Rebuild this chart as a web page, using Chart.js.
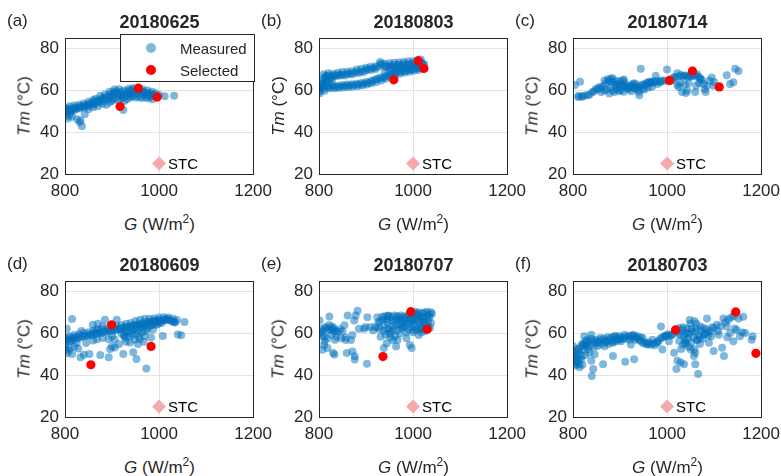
<!DOCTYPE html>
<html>
<head>
<meta charset="utf-8">
<script src="https://cdn.jsdelivr.net/npm/chart.js@4.4.1/dist/chart.umd.min.js"></script>
<style>
body { margin: 0; width: 781px; height: 476px; position: relative; overflow: hidden; background: #fff;
  font-family: "Liberation Sans", Arial, Helvetica, sans-serif; color: #262626; }
canvas { position: absolute; }
.txt { position: absolute; white-space: nowrap; line-height: 1; }
.panel { font-size: 17px; }
.title { font-size: 18px; font-weight: bold; text-align: center; transform: translateX(-50%); }
.xlab { font-size: 17px; transform: translateX(-50%); }
.ylab { font-size: 17px; transform: translate(-50%, -50%) rotate(-90deg); }
sup { font-size: 12px; vertical-align: 7px; line-height: 0; }
.legend { position: absolute; left: 120px; top: 34px; width: 133px; height: 46px; background: #fff;
  border: 1px solid #262626; font-size: 15px; }
.legend .dot { position: absolute; border-radius: 50%; }
</style>
</head>
<body>
<script>
const panelNames = ['(a)', '(b)', '(c)', '(d)', '(e)', '(f)'];
const titles = ['20180625', '20180803', '20180714', '20180609', '20180707', '20180703'];
const xTicks = [800, 1000, 1200];
const yTicks = [20, 40, 60, 80];
const stcPoint = [1000, 25];
const legendLabels = ['Measured', 'Selected'];

// measured [G, Tm] and selected points
const measuredA = [
  [800,50.2],[801,51.3],[803,49.6],[805,50.8],[807,51.5],[809,50.1],[811,51],[813,49.8],[815,50.6],[817,51.4],
  [820,50.5],[822,51.8],[825,51.2],[828,52],[831,51.3],[834,52.4],[837,51.8],[840,52.6],[843,52.1],[846,53],
  [849,52.4],[852,53.4],[855,53.9],[858,53.2],[861,54.3],[864,53.6],[867,54.8],[870,55.2],[873,54.4],[876,55.6],
  [879,56.2],[882,55.1],[885,56.6],[888,55.8],[891,57.2],[894,56.4],[897,58.2],[900,57.3],[903,59.1],[906,58.4],
  [909,59.6],[912,58.8],[915,57.6],[918,59.2],[921,58],[924,56.8],[927,57.9],[930,59.3],[933,58.1],[936,59.8],
  [939,58.6],[942,60.2],[945,59.1],[948,60.4],[951,59.4],[954,58.3],[957,59.6],[960,60.1],[963,59],[966,58.2],
  [969,59.3],[972,58.6],[975,57.8],[978,58.8],[981,57.6],[984,58.2],[987,57.3],[990,57.8],[994,57.2],[1000,57.8],
  [1012,57.2],[1032,57.4],[880,53.6],[888,53.2],[895,54.4],[902,55.6],[908,56.2],[914,55.4],[920,56.4],[926,55],
  [932,55.8],[938,56.6],[944,57.2],[950,56.6],[956,57],[962,56.4],[968,56.8],[974,56.2],[980,56.6],[986,55.8],
  [924,50.6],[870,52.4],[860,52],[850,51],[802,47.6],[806,46.6],[810,48.4],[815,47.4],[826,46.2],[831,44.8],
  [836,42.8],[833,45.6],[842,48.6],[900,55],[940,57.4],
  [905,60.4],[915,60.6],[925,60],[935,60.8],[945,61.2],[955,60.8],[965,60.6],[975,60],[985,59.4],[895,59.4],
  [885,58],[875,57.4],[865,56],[860,55.4],[850,54.6],[840,53.8],[830,53.2],[820,52.8],[810,52.4],[992,58.6]
];
const selectedA = [[917,52.3],[956,61.1],[996,56.8]];

const measuredB = [
  [806,64.2],[809,65.4],[812,66.4],[815,67],[818,66.6],[822,67.2],[826,66.4],[830,66.8],[834,67.3],[838,66.9],
  [842,67.5],[846,67.1],[850,67.6],[855,67.2],[860,67.8],[865,68.1],[870,67.6],[875,68.4],[880,68.8],[885,68.4],
  [890,69.2],[895,68.8],[900,69.6],[905,70.2],[910,69.8],[915,70.6],[920,70.3],[925,71.2],[930,72.4],[934,72.8],
  [938,71.6],[943,71.2],[948,71.8],[953,71.4],[958,72.2],[963,71.6],[968,72.3],[973,71.8],[978,72.5],[983,72.1],
  [988,72.7],[993,72.4],[998,72.9],[1003,72.6],[1008,73.2],[1013,73.8],[1018,73.4],[1021,72.6],
  [800,59.4],[800,61.2],[803,60.4],[806,61.6],[810,60.8],[814,62.2],[818,61.6],[822,62.6],[826,61.8],[830,62.4],
  [835,61.7],[840,62.3],[845,61.9],[850,62.6],[855,62.1],[860,62.8],[865,62.3],[870,62.9],[875,62.6],[880,63.2],
  [885,62.8],[890,63.6],[895,63.2],[900,64],[905,63.6],[910,64.4],[915,64.8],[920,65.2],[925,65.6],[930,66.2],
  [935,65.8],[940,66.6],[945,67],[950,67.4],[955,67.8],[960,68.4],[965,68.8],[970,69.2],[975,69],[980,69.6],
  [985,69.4],[990,70],[995,69.8],[1000,70.4],[1005,70.2],[1010,70.6],[1015,71],[1020,71.6],[1024,72.4],
  [808,63.2],[812,64],[816,64.6],[820,65.2],[824,65.6],[828,65.4],[804,62.6],
  [962,70.2],[970,70.8],[980,71],[990,71.2],[1000,71.4],[1010,71.8],[950,69.6],[940,69],[955,70.4],
  [810,67.8],[820,68.2],[830,67.9],[840,68.5],[850,68.8],[860,69],[870,69.2],[880,70],[890,70.4],[900,70.8],
  [910,71.3],[920,71.6],[930,73.6],[940,72.8],[950,73],[960,73.2],[970,73.4],[980,73.6],[990,74],[1000,74],
  [1010,74.6],[1016,74.8],
  [802,58.6],[812,59.8],[822,61],[832,61],[842,61.2],[852,61.4],[862,61.6],[872,61.8],[882,62],[892,62.4],
  [902,62.8],[912,63.4],[922,64],[932,64.8],[942,65.6],[952,66.4],[962,67.2],[972,68],[982,68.6],[992,69],
  [1002,69.4],[1012,69.8]
];
const selectedB = [[1011,74.1],[1023,70.5],[959,65.1]];

const measuredC = [
  [804,62.6],[815,64.2],[811,56.9],[821,57.2],[832,57.7],[842,59.2],[849,60.8],[856,61.6],[867,64.7],[874,65.4],
  [881,65.7],[867,60],[860,59.2],[877,58.5],[888,59.2],[895,63.1],[906,64.7],[909,62.3],[920,61.6],[927,63.1],
  [931,60.8],[937,61.6],[944,70.4],[941,57.7],[948,60.8],[955,63.1],[965,63.9],[976,67],[980,63.1],[987,64.2],
  [1000,70],[1004,64.7],[1015,66.2],[1022,68.2],[1025,61.6],[1032,59.2],[1036,67],[1043,60],[1050,66.7],[1060,59.2],
  [1064,67.7],[1071,65.4],[1078,63.1],[1082,59.2],[1085,62.3],[1095,66.2],[1099,62.3],[1127,67.3],[1134,63.1],[1145,70.4],
  [1152,69.3],[1141,63.9],
  [812,57.4],[818,57],[826,57.6],[836,58.2],[844,59.6],[852,60.4],[858,61],[864,62],[870,63.4],[876,64.6],
  [882,64.2],[886,63.8],[890,62.6],[896,62.4],[900,61.4],[904,62.8],[910,63.6],[914,62],[918,60.6],[922,62.4],
  [926,62],[930,63.4],[934,62.8],[938,60.4],[942,61.8],[946,62.6],[950,63],[954,62.4],[958,63.8],[962,64.2],
  [966,63.6],[970,64.4],[974,63.8],[978,64.6],[984,64.2],[990,64.8],[996,64.6],[1008,65.6],[1012,64.8],[1018,66.4],
  [1026,66.8],[1030,67.4],[1034,66.6],[1040,67.2],[1044,66.4],[1048,67],[1052,67.6],[1056,66.8],[1060,67.4],[1066,66.6],
  [1070,66],[1074,65],[1028,63.6],[1038,62.8],[1046,63.4],[1022,62.6],[1062,62.2],[1068,63.6],[1090,64.6],[1080,60.6],
  [1040,58.8],[1100,64],
  [872,60.4],[880,61.4],[884,60],[892,60.6],[898,59.6],[902,60.2],[908,59.4],[916,61],[924,59.6],[932,61.2],
  [940,59.4],[952,60.4],[960,61.4],[968,61.8],[884,65.8],[892,64.6],[900,64.4],[908,65.2]
];
const selectedC = [[1005,64.7],[1054,69.3],[1111,61.7]];

const measuredD = [
  [800,54],[802,52.5],[803,56],[806,57],[810,56.2],[814,57.4],[818,57],[822,58],[826,57.6],[830,58.4],
  [834,58],[838,58.6],[842,59],[846,58.6],[850,59.4],[854,59],[858,59.8],[862,59.4],[866,60.2],[870,60],
  [874,60.6],[878,60.2],[882,61],[886,60.6],[890,61.2],[894,61],[898,61.6],[902,61.2],[906,62],[910,61.6],
  [914,62.4],[918,62],[922,62.8],[926,62.4],[930,63.2],[934,62.8],[938,63.6],[942,63.2],[946,64],[950,63.6],
  [954,64.4],[958,64],[962,64.8],[966,64.4],[970,65.2],[974,64.8],[978,65.6],[982,65.2],[986,66],[990,65.6],
  [994,66.2],[998,65.8],[1002,66.4],[1006,66],[1010,66.6],[1014,66.2],[1018,66.8],[1022,66.4],[1026,66],[1030,65.6],
  [1034,65.2],[1038,66.4],
  [920,60],[925,59],[930,60.6],[935,61.4],[940,60.2],[945,61.8],[950,62.4],[955,61],[960,62.6],[965,63],
  [970,63.4],[975,62.2],[980,63.6],[985,64],[990,64.4],[995,64.2],[1000,64.8],[1005,65],[928,57.8],[936,58.6],
  [944,59.2],[952,59.8],[958,58.4],[964,60.6],[972,61.2],
  [815,66.9],[804,62.2],[801,57.2],[808,51.7],[815,50.2],[833,48.6],[852,50.2],[875,49.7],[893,48.6],[812,56.4],
  [818,58],[859,64.2],[866,61.9],[885,66.6],[868,57.2],[893,57.2],[905,57.2],[910,66.6],[896,52.5],[906,53.3],
  [924,50.2],[917,62.2],[927,58.8],[938,55.6],[945,51],[952,47.8],[959,57.2],[969,58.8],[983,58],[973,43.2],
  [987,61.9],[1008,58.8],[1040,59.5],[1047,59.1],[1054,65.5],[1033,65.5],[1015,66.9],[994,65.8],[804,50.5],[810,53],
  [820,53.6],[828,52.8],[845,55.4],[860,56.6],[880,57.8],[900,58.6],[915,55],[948,57],[955,55],[968,56],
  [880,62],[870,64.6],[835,61.2],[825,55.4],[840,49.8],[900,53.8],[930,56],
  [940,65],[950,66],[960,66.6],[970,67],[980,67],[990,67.2],[1000,67.6],[1010,67.8],[1020,67.6],[1030,67],
  [930,64.6],[920,64],[910,63.4],[900,62.8],[890,62.4],[880,63.4],[870,61.8],[860,61.2],[850,60.6],[840,60.2],
  [830,59.6],[820,59.2],[810,58.6],[805,58]
];
const selectedD = [[899,64.1],[983,53.8],[855,45]];

const measuredE = [
  [801,66.2],[804,60.8],[811,58.4],[814,63.1],[822,68.1],[826,61.6],[830,63.1],[833,60.8],[837,58.4],[811,54.5],
  [807,52.2],[818,53],[830,50.6],[833,49.9],[847,57.7],[854,63.9],[857,56.9],[861,68.6],[868,56.9],[871,59.2],
  [871,51.4],[875,66.2],[878,68.6],[882,70.9],[859,50.6],[876,49.1],[876,47.5],[902,45.5],[885,62.3],[899,63.1],
  [903,67.8],[896,62.3],[910,63.1],[924,67.8],[927,63.1],[931,58.4],[938,53],[944,55.3],[947,68.6],[950,60],
  [957,56.9],[964,53.8],[967,56.9],[970,67.8],[979,63.1],[986,57.7],[993,54.5],[997,53],[1002,61.6],[1009,69.4],
  [1012,59.2],[1020,67.8],[1023,64.7],[1030,68.6],[1038,70.1],[1016,62.3],
  [930,66],[935,68],[940,64],[945,67],[950,62],[955,66],[960,68.6],[965,64],[970,66.4],[975,62.6],
  [980,68],[985,65],[990,61.8],[995,67.4],[1000,64.2],[1005,69],[1010,66],[1015,63.4],[1020,69.6],[1025,66.6],
  [1030,70.4],[1035,67.8],[1040,69.4],[1038,65],[1028,63],[1018,60.6],[1008,62.4],[998,66.2],[988,68.6],[978,64.6],
  [968,61.6],[958,62],[948,68.4],[938,61.2],[928,62],[920,63],[915,61.5],[942,59.4],[952,58.2],[962,58.8],
  [972,60],[982,63.2],[992,64.6],[1002,68],[1012,70],[1022,67.6],[1032,66],[1036,62.6],[1026,61.2],[1016,65.4],
  [1006,67],[996,62.8],[986,60.4],[976,66.8],[966,68.2],[956,63.6],[946,65.4],[936,66.6],[926,65.2],[1000,60.6],
  [1010,61.6],[1020,62.2],
  [805,62.2],[810,61.4],[815,62.6],[820,61.8],[825,63],[830,62.2],[835,61.4],[840,60.8],[845,62],[818,57.6],
  [826,59.4],[834,57],[812,56.2],[808,58.8],[802,60],[850,61],[856,58],[822,64],
  [940,68.2],[952,68],[964,67],[974,68.6],[984,67.4],[994,69.2],[1004,70.4],[1014,68.2],[1024,70],[1034,69],
  [962,65.6],[972,64],[982,66.2],[992,66.4],[1002,65.6],[1012,67.6],[1022,65.2],[1032,63.6],[954,60.8],[944,62.2]
];
const selectedE = [[995,70.4],[1030,62],[936,48.9]];

const measuredF = [
  [800,53.9],[804,49.2],[807,45.3],[814,43.8],[811,52.3],[821,54.7],[828,53.9],[835,50.8],[839,46.9],[843,43],
  [840,39.6],[824,58.6],[839,59.4],[846,50],[853,55.5],[864,45.3],[867,53.9],[874,56.3],[885,55.5],[888,58.6],
  [885,49.2],[895,57],[902,56.3],[911,46.4],[910,59.4],[923,54.7],[927,59.4],[930,47.7],[937,58.6],[948,57.8],
  [958,54.7],[969,57],[980,55.5],[987,63.3],[990,52.3],[997,58.6],[1004,56.3],[1011,59.4],[1015,50.8],[1022,46.9],
  [1020,43],[1029,46.1],[1036,45.3],[1039,55.5],[1043,60.2],[1048,66.4],[1050,52.3],[1057,49.2],[1060,45.3],[1066,40.6],
  [1064,57],[1071,63.3],[1078,59.4],[1085,67.2],[1089,55.5],[1099,51.6],[1106,64.1],[1110,59.4],[1117,53.1],[1120,67.2],
  [1121,49.2],[1127,63.3],[1134,60.2],[1141,56.3],[1148,61.7],[1155,58.6],[1162,68],[1166,60.2],[1182,58.6],[1180,57],
  [800,50],[802,48.2],[804,51.4],[806,46.8],[808,49.6],[810,52.6],[812,47.8],[814,50.8],[816,53.6],[818,49.2],
  [820,55],[822,52],[824,54.4],[826,56.2],[828,55],[830,56.8],[834,56],[838,57.4],[842,56.6],[846,55.6],
  [850,57],[854,56.2],[858,57.8],[862,56.8],[866,57.6],[870,56.4],[874,58.2],[878,57.2],[882,58],[886,57],
  [890,58.6],[894,57.4],[898,58.8],[902,58],[906,57.2],[910,58.4],[914,57.6],[918,58.6],[922,58.8],[926,58],
  [930,59],[934,58.2],[938,57.4],[942,56.6],[946,56],[950,55.2],[954,55.8],[958,55],[962,55.6],[966,54.6],
  [970,55.2],[974,54.4],[978,55.8],[982,56.6],[986,57.6],[990,58],[994,58.6],[998,59],[1002,59.6],[1006,58.8],
  [1010,59.4],
  [1020,61],[1024,60.2],[1028,59.4],[1032,61.6],[1036,58.6],[1040,60.4],[1044,57.6],[1048,59.8],[1052,62.2],[1056,58.2],
  [1060,60.8],[1064,56.8],[1068,59],[1072,61.4],[1076,57.4],[1080,60],[1084,62],[1088,59.2],[1092,61.2],[1096,63],
  [1040,55.2],[1046,53.6],[1052,55.8],[1058,52.4],[1050,64.6],[1058,66],[1062,64.8],[1034,54.6],[1030,52.6],[1026,56.4],
  [1070,55],[1100,62.6],[1108,61],[1114,63.4],[1124,65.4],[1130,66.6],[1136,67.6],[1142,68.4],[1152,67.2],[1144,62.4],
  [1128,58.2],[1160,60.4],[1060,50.8],
  [803,46],[806,44.6],[809,47.2],[813,45.4],[817,47.6],[820,45],[826,49.6],[832,52.4],[836,54],[844,53.6],
  [852,54],[860,55],[868,55.6],[876,55],[884,56],[892,56.2],[900,57.2],[920,57],[932,57],[944,58],
  [1026,62.6],[1034,63],[1042,62.4],[1054,61],[1062,62.4],[1070,58],[1078,62.6],[1086,60.4],[1094,58.6],[1038,57]
];
const selectedF = [[1018,61.7],[1146,70.3],[1189,50.5]];

const measuredSets = [measuredA, measuredB, measuredC, measuredD, measuredE, measuredF];
const selectedSets = [selectedA, selectedB, selectedC, selectedD, selectedE, selectedF];

const blue = 'rgba(0,114,189,0.5)';
const red = 'rgb(255,0,0)';
const pink = 'rgb(247,168,168)';
const axisColor = '#262626';
const gridColor = '#e3e3e3';

// plot-area rectangles on the page
const plotLefts = [65, 319, 573];
const plotTops = [34, 277];
const plotW = 189, plotH = 140;
const padL = 50, padR = 25, padT = 12, padB = 30;

const boxPlugin = {
  id: 'box',
  afterDatasetsDraw(chart) {
    const { ctx, chartArea: a, scales } = chart;
    ctx.save();
    const sx = scales.x.getPixelForValue(stcPoint[0]);
    const sy = scales.y.getPixelForValue(stcPoint[1]);
    ctx.fillStyle = '#000';
    ctx.font = '15px "Liberation Sans", Arial, sans-serif';
    ctx.textBaseline = 'middle';
    ctx.fillText('STC', sx + 9, sy + 1);
    ctx.strokeStyle = axisColor;
    ctx.lineWidth = 1;
    ctx.strokeRect(Math.round(a.left) + 0.5, Math.round(a.top) + 0.5, Math.round(a.width), Math.round(a.height));
    ctx.restore();
  }
};

function addText(cls, html, left, top) {
  const d = document.createElement('div');
  d.className = 'txt ' + cls;
  d.innerHTML = html;
  d.style.left = left + 'px';
  d.style.top = top + 'px';
  document.body.appendChild(d);
}

for (let i = 0; i < 6; i++) {
  const L = plotLefts[i % 3];
  const T = plotTops[Math.floor(i / 3)];
  const cv = document.createElement('canvas');
  cv.width = padL + plotW + padR;
  cv.height = padT + plotH + padB;
  cv.style.left = (L - padL) + 'px';
  cv.style.top = (T - padT) + 'px';
  document.body.appendChild(cv);

  new Chart(cv.getContext('2d'), {
    type: 'scatter',
    data: {
      datasets: [
        { label: 'Selected', data: selectedSets[i].map(p => ({ x: p[0], y: p[1] })),
          backgroundColor: red, borderWidth: 0, pointRadius: 4.6 },
        { label: 'Measured', data: measuredSets[i].map(p => ({ x: p[0], y: p[1] })),
          backgroundColor: blue, borderWidth: 0, pointRadius: 4 },
        { label: 'STC', data: [{ x: stcPoint[0], y: stcPoint[1] }],
          pointStyle: 'rectRot', backgroundColor: pink, borderWidth: 0, pointRadius: 7 }
      ]
    },
    options: {
      responsive: false,
      animation: false,
      events: [],
      layout: { padding: { left: 0, right: padR, top: padT, bottom: 0 } },
      plugins: { legend: { display: false }, tooltip: { enabled: false } },
      scales: {
        x: {
          type: 'linear', min: 800, max: 1200,
          afterFit: s => { s.height = padB; },
          afterBuildTicks: s => { s.ticks = xTicks.map(v => ({ value: v })); },
          ticks: { color: axisColor, padding: 7, maxRotation: 0, callback: v => String(v),
            font: { size: 17, family: '"Liberation Sans", Arial, sans-serif' } },
          grid: { color: gridColor, drawTicks: false },
          border: { color: axisColor }
        },
        y: {
          type: 'linear', min: 20, max: 85,
          afterFit: s => { s.width = padL; },
          afterBuildTicks: s => { s.ticks = yTicks.map(v => ({ value: v })); },
          ticks: { color: axisColor, padding: 6, callback: v => String(v),
            font: { size: 17, family: '"Liberation Sans", Arial, sans-serif' } },
          grid: { color: gridColor, drawTicks: false },
          border: { color: axisColor }
        }
      }
    },
    plugins: [boxPlugin]
  });

  addText('panel', panelNames[i], L - 58, T - 22);
  addText('title', titles[i], L + plotW / 2, T - 21);
  addText('xlab', '<i>G</i> (W/m<sup>2</sup>)', L + plotW / 2, T + plotH + 42);
  addText('ylab', '<i>Tm</i> (°C)', L - 41, T + 72);
}

// legend inside panel (a)
const lg = document.createElement('div');
lg.className = 'legend';
const legendColors = [blue, red];
legendLabels.forEach((name, k) => {
  const dot = document.createElement('div');
  dot.className = 'dot';
  dot.style.background = legendColors[k];
  dot.style.width = '10px';
  dot.style.height = '10px';
  dot.style.left = '25px';
  dot.style.top = (8 + k * 22) + 'px';
  lg.appendChild(dot);
  const t = document.createElement('div');
  t.className = 'txt';
  t.textContent = name;
  t.style.left = '59px';
  t.style.top = (6 + k * 22) + 'px';
  lg.appendChild(t);
});
document.body.appendChild(lg);
</script>
</body>
</html>
